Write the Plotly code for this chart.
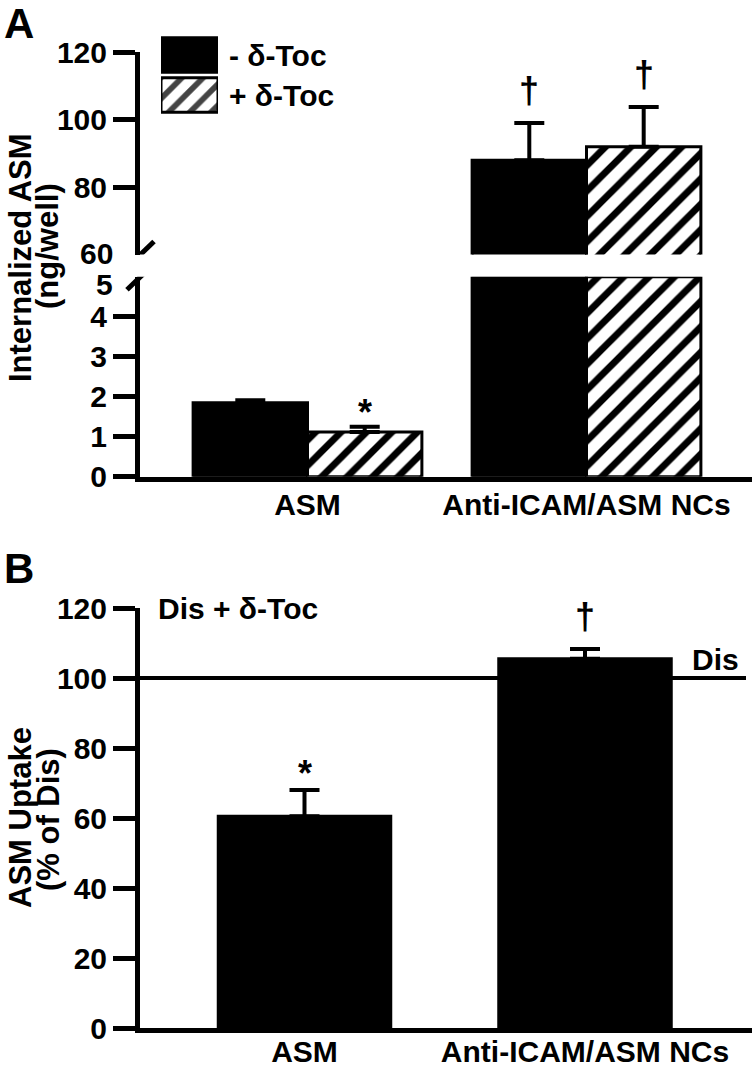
import plotly.graph_objects as go

# ---------------- data ----------------
categories = ["ASM", "Anti-ICAM/ASM NCs"]
series_names = ["- δ-Toc", "+ δ-Toc"]

a_minus = [1.85, 88.0]          # Internalized ASM, - δ-Toc (ng/well)
a_minus_err = [0.06, 11.0]
a_plus = [1.12, 92.0]           # Internalized ASM, + δ-Toc (ng/well)
a_plus_err = [0.13, 11.8]
a_minus_sig = ["", "†"]
a_plus_sig = ["*", "†"]

b_values = [60.5, 105.5]        # ASM uptake, % of Dis
b_err = [7.5, 2.8]
b_sig = ["*", "†"]

a_lower_ticks = [0, 1, 2, 3, 4]
a_upper_ticks = [80, 100, 120]
b_ticks = [0, 20, 40, 60, 80, 100, 120]
break_low, break_high = 5, 60
dis_reference = 100

# ---------------- layout helpers ----------------
W, H = 752, 1071
ML = 140
PW = W - ML


def px_x(px):
    return (px - ML) / PW


def px_y(py):
    return 1 - py / H


FAM = "Liberation Sans, Arial, sans-serif"


def font(size=30):
    return dict(family=FAM, size=size, color="black", weight="bold")


BW_A = 0.41
BW_B = 0.615
LINE_W = 5
TICK_LEN = 22

fig = go.Figure()

# ---------------- Panel A bars ----------------
series = [
    (a_minus, a_minus_err, a_minus_sig, -BW_A / 2, "black", ""),
    (a_plus, a_plus_err, a_plus_sig, BW_A / 2, "white", "/"),
]
pattern_style = dict(fgcolor="black", bgcolor="white", fgopacity=1, size=18, solidity=0.38)

for vals, errs, sigs, off, col, shape in series:
    xs = [i + off for i in range(len(categories))]
    marker = dict(color=col, line=dict(color="black", width=3))
    if shape:
        marker["pattern"] = dict(shape=shape, **pattern_style)
    # lower section (0 - break_low)
    fig.add_trace(go.Bar(
        x=xs, y=[min(v, break_low) for v in vals], width=BW_A,
        marker=marker, xaxis="x", yaxis="y", showlegend=False, hoverinfo="skip"))
    # upper section (break_high - top)
    fig.add_trace(go.Bar(
        x=xs, y=[v if v > break_high else None for v in vals], width=BW_A,
        marker=marker, xaxis="x", yaxis="y2", showlegend=False, hoverinfo="skip"))
    # error bars
    for yax, cond in (("y", lambda v: v <= break_low), ("y2", lambda v: v > break_high)):
        ys = [v if cond(v) else None for v in vals]
        fig.add_trace(go.Scatter(
            x=xs, y=ys, mode="markers", marker=dict(size=1, color="rgba(0,0,0,0)"),
            error_y=dict(type="data", symmetric=False, array=errs,
                         arrayminus=[0] * len(errs), color="black",
                         thickness=4, width=15),
            xaxis="x", yaxis=yax, showlegend=False, hoverinfo="skip"))
    for x, v, e, s in zip(xs, vals, errs, sigs):
        if s:
            fig.add_annotation(x=x, y=v + e, xref="x",
                               yref="y2" if v > break_high else "y",
                               text=s, showarrow=False, yanchor="bottom",
                               yshift=-8 if s == "*" else 10, font=font(36))

# ---------------- Panel B bars ----------------
xb = list(range(len(categories)))
fig.add_trace(go.Bar(
    x=xb, y=b_values, width=BW_B,
    marker=dict(color="black", line=dict(color="black", width=3)),
    error_y=dict(type="data", symmetric=False, array=b_err,
                 arrayminus=[0] * len(b_err), color="black", thickness=4, width=15),
    xaxis="x3", yaxis="y3", showlegend=False, hoverinfo="skip"))
for x, v, e, s in zip(xb, b_values, b_err, b_sig):
    fig.add_annotation(x=x, y=v + e, xref="x3", yref="y3", text=s, showarrow=False,
                       yanchor="bottom", yshift=-6 if s == "*" else 10, font=font(36))

# ---------------- legend (helper axis) ----------------
fig.add_trace(go.Bar(
    y=series_names, x=[1, 1], orientation="h", width=0.86,
    marker=dict(color=["black", "white"], line=dict(color="black", width=3),
                pattern=dict(shape=["", "/"], fgcolor="black", bgcolor="white",
                             fgopacity=1, size=15, solidity=0.38)),
    xaxis="x4", yaxis="y4", showlegend=False, hoverinfo="skip"))

axis_common = dict(showgrid=False, zeroline=False, showline=True, linecolor="black",
                   linewidth=LINE_W, tickfont=font(30), ticks="outside",
                   ticklen=TICK_LEN, tickwidth=LINE_W, tickcolor="black",
                   automargin=False)

xr_a = [(ML - 307.5) / 279, (W - 307.5) / 279]
xr_b = [(ML - 304.5) / 280.5, (W - 304.5) / 280.5]

fig.update_layout(
    width=W, height=H,
    margin=dict(l=ML, r=0, t=0, b=0, autoexpand=False),
    paper_bgcolor="white", plot_bgcolor="rgba(0,0,0,0)",
    bargap=0,
    xaxis=dict(domain=[0, 1], range=xr_a, anchor="y", showgrid=False, zeroline=False,
               showline=True, linecolor="black", linewidth=LINE_W, ticks="",
               tickvals=xb, ticktext=categories, tickfont=font(30),
               ticklabelstandoff=-3, automargin=False),
    yaxis=dict(domain=[px_y(476.7), px_y(276.7)], range=[0, break_low], anchor="x",
               tickvals=a_lower_ticks, **axis_common),
    yaxis2=dict(domain=[px_y(254.5), px_y(52.3)], range=[break_high, 120], anchor="x",
                tickvals=a_upper_ticks, **axis_common),
    xaxis3=dict(domain=[0, 1], range=xr_b, anchor="y3", showgrid=False, zeroline=False,
                showline=True, linecolor="black", linewidth=LINE_W, ticks="",
                tickvals=xb, ticktext=categories, tickfont=font(30),
                ticklabelstandoff=-7, automargin=False),
    yaxis3=dict(domain=[px_y(1028), px_y(608)], range=[0, 120], anchor="x3",
                tickvals=b_ticks, **axis_common),
    xaxis4=dict(domain=[px_x(161), px_x(218)], range=[0, 1], anchor="y4",
                visible=False, fixedrange=True, automargin=False),
    yaxis4=dict(domain=[px_y(115), px_y(35)], anchor="x4", side="right",
                categoryorder="array", categoryarray=series_names[::-1],
                showgrid=False, zeroline=False, showline=False, ticks="",
                tickfont=font(30), ticklabelstandoff=10, automargin=False),
)

# axis-break labels (the ticks themselves are replaced by break slashes)
fig.add_annotation(x=0, xref="x domain", y=break_high, yref="y2", text=str(break_high),
                   showarrow=False, xanchor="right", xshift=-25, yshift=1, font=font(30))
fig.add_annotation(x=0, xref="x domain", y=break_low, yref="y", text=str(break_low),
                   showarrow=False, xanchor="right", xshift=-25, yshift=-8, font=font(30))
for yref, yv in (("y2", break_high), ("y", break_low)):
    fig.add_shape(type="line", xref="x domain", yref=yref, xsizemode="pixel",
                  ysizemode="pixel", xanchor=0, yanchor=yv, x0=-13, x1=14, y0=-13, y1=13,
                  line=dict(color="black", width=LINE_W))

# reference line at 100 % (Dis)
fig.add_shape(type="line", xref="x3 domain", yref="y3", x0=0, x1=px_x(746),
              y0=dis_reference, y1=dis_reference, layer="below",
              line=dict(color="black", width=4))
fig.add_annotation(x=px_x(741), xref="paper", y=dis_reference, yref="y3", text="Dis",
                   showarrow=False, xanchor="right", yanchor="bottom", yshift=0,
                   font=font(30))
fig.add_annotation(x=px_x(156), xref="paper", y=120, yref="y3", text="Dis + δ-Toc",
                   showarrow=False, xanchor="left", yanchor="middle", font=font(30))

# axis titles
for txt, cx, cy in (("Internalized ASM", 20, 258), ("(ng/well)", 48, 246),
                    ("ASM Uptake", 20, 818), ("(% of Dis)", 48, 820)):
    fig.add_annotation(x=px_x(cx), y=px_y(cy), xref="paper", yref="paper", text=txt,
                       textangle=-90, showarrow=False, xanchor="center",
                       yanchor="middle", font=font(31))

# panel letters
for txt, cx, cy in (("A", 19, 23), ("B", 19, 568)):
    fig.add_annotation(x=px_x(cx), y=px_y(cy), xref="paper", yref="paper", text=txt,
                       showarrow=False, xanchor="center", yanchor="middle", font=font(42))

fig.write_html("out.html",
               config={"displayModeBar": False, "staticPlot": True},
               post_script="document.body.style.margin='0';"
                           "document.body.style.overflow='hidden';")
